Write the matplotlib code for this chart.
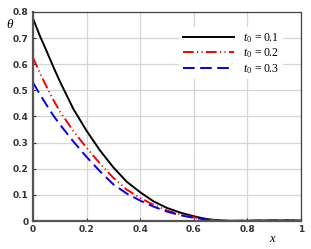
import matplotlib
matplotlib.use("Agg")
import matplotlib.pyplot as plt

# values
x = [0.0, 0.025, 0.05, 0.075, 0.10, 0.15, 0.20, 0.25, 0.30, 0.35, 0.40, 0.45, 0.50,
     0.55, 0.60, 0.65, 0.70, 0.75, 0.80, 0.90, 1.0]
theta_01 = [0.775, 0.71, 0.652, 0.592, 0.535, 0.43, 0.345, 0.27, 0.205, 0.15, 0.11,
            0.075, 0.05, 0.032, 0.018, 0.007, 0.002, 0.0005, 0.001, 0.002, 0.002]
theta_02 = [0.625, 0.568, 0.515, 0.465, 0.42, 0.345, 0.28, 0.22, 0.165, 0.12, 0.088,
            0.062, 0.04, 0.025, 0.014, 0.006, 0.001, 0.0005, 0.001, 0.002, 0.002]
theta_03 = [0.53, 0.486, 0.445, 0.405, 0.37, 0.305, 0.245, 0.19, 0.14, 0.105, 0.078,
            0.055, 0.036, 0.022, 0.012, 0.005, 0.001, 0.0005, 0.001, 0.002, 0.002]
labels = [r"$t_0\;=0.1$", r"$t_0\;=0.2$", r"$t_0\;=0.3$"]
xticks = [0, 0.2, 0.4, 0.6, 0.8, 1]
xticklabels = ["0", "0.2", "0.4", "0.6", "0.8", "1"]
yticks = [0, 0.1, 0.2, 0.3, 0.4, 0.5, 0.6, 0.7, 0.8]
yticklabels = ["0", "0.1", "0.2", "0.3", "0.4", "0.5", "0.6", "0.7", "0.8"]

plt.rcParams["mathtext.fontset"] = "custom"
plt.rcParams["mathtext.rm"] = "Liberation Serif"
plt.rcParams["mathtext.it"] = "Liberation Serif:italic"

fig = plt.figure(figsize=(3.11, 2.49), dpi=100)
ax = fig.add_axes([33 / 311, 28 / 249, 268 / 311, 209 / 249])

ax.plot(x, theta_01, color="black", lw=1.4, label=labels[0])
ax.plot(x, theta_02, color="#ff0000", lw=1.4, dashes=(5.5, 1.7, 0.6, 1.7, 0.6, 1.7),
        label=labels[1])
ax.plot(x, theta_03, color="#0000ee", lw=1.4, dashes=(6, 2.8), label=labels[2])

ax.set_xlim(0, 1)
ax.set_ylim(0, 0.8)
ax.set_xticks(xticks)
ax.set_xticklabels(xticklabels)
ax.set_yticks(yticks)
ax.set_yticklabels(yticklabels)
ax.tick_params(direction="in", length=2.5, width=0.8, labelsize=6.5,
               colors="#333333", pad=3)
for t in ax.get_xticklabels() + ax.get_yticklabels():
    t.set_fontweight("bold")
ax.grid(True, color="#d4d4d4", lw=0.9)
ax.set_axisbelow(True)

for side in ("left", "bottom"):
    ax.spines[side].set_linewidth(1.6)
    ax.spines[side].set_color("#555555")
for side in ("top", "right"):
    ax.spines[side].set_linewidth(0.9)
    ax.spines[side].set_color("#444444")

fig.text(10.5 / 311, 1 - 24 / 249, r"$\theta$", fontsize=9.5, ha="center", va="center")
fig.text(273 / 311, 1 - 238 / 249, r"$x$", fontsize=9, ha="center", va="center")

leg = ax.legend(loc="upper right", bbox_to_anchor=(0.955, 0.955), fontsize=8.5,
                frameon=True, framealpha=1, edgecolor="none", fancybox=False,
                handlelength=4.3, handletextpad=0.8, labelspacing=0.15,
                borderpad=0.3)

fig.savefig("out.png", dpi=100)
